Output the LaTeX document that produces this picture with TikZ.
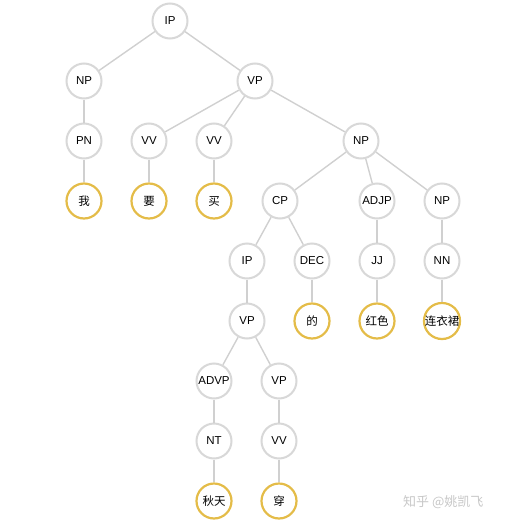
\documentclass[tikz,border=0pt]{standalone}
\usepackage{fontspec}
\setmainfont{Liberation Sans}
\newfontfamily\cjk{Noto Sans CJK SC}
\usepackage{xcolor}
\definecolor{ringgray}{RGB}{216,216,216}
\definecolor{edgegray}{RGB}{208,208,208}
\definecolor{leafgold}{RGB}{228,188,72}

\begin{document}
\begin{tikzpicture}[x=1pt,y=1pt,yscale=-1,xscale=1,
  tag/.style={circle,draw=ringgray,line width=2pt,fill=white,minimum size=35pt,inner sep=0pt,font=\fontsize{11.5}{13}\selectfont},
  leaf/.style={tag,draw=leafgold,line width=2.2pt,font=\fontsize{11.5}{13}\selectfont\cjk},
  branch/.style={draw=edgegray,line width=1.4pt}]
\useasboundingbox (0,0) rectangle (512,525);

% Text Node
\node [tag] (ip) at (170,21) {IP};
% Text Node
\node [tag] (np) at (84,81) {NP};
\node [tag] (vp) at (255,81) {VP};
% Text Node
\node [tag] (pn) at (84,141) {PN};
\node [tag] (vva) at (149,141) {VV};
\node [tag] (vvb) at (214,141) {VV};
\node [tag] (npr) at (361,141) {NP};
% Text Node
\node [leaf] (wo) at (84,201) {我};
\node [leaf] (yao) at (149,201) {要};
\node [leaf] (mai) at (214,201) {买};
\node [tag] (cp) at (280,201) {CP};
\node [tag] (adjp) at (377,201) {ADJP};
\node [tag] (npn) at (442,201) {NP};
% Text Node
\node [tag] (ipc) at (247,261) {IP};
\node [tag] (dec) at (312,261) {DEC};
\node [tag] (jj) at (377,261) {JJ};
\node [tag] (nn) at (442,261) {NN};
% Text Node
\node [tag] (vpc) at (247,321) {VP};
\node [leaf] (de) at (312,321) {的};
\node [leaf] (hongse) at (377,321) {红色};
\node [leaf] (lyq) at (442,321) {连衣裙};
% Text Node
\node [tag] (advp) at (214,381) {ADVP};
\node [tag] (vpd) at (279,381) {VP};
% Text Node
\node [tag] (nt) at (214,441) {NT};
\node [tag] (vvc) at (279,441) {VV};
% Text Node
\node [leaf] (qiutian) at (214,501) {秋天};
\node [leaf] (chuan) at (279,501) {穿};
% Text Node
\node [anchor=west,inner sep=0pt,text=black!22,font=\fontsize{13}{15}\selectfont\cjk] (mark) at (403,502) {知乎 @姚凯飞};

%Straight Lines
\foreach \a/\b in {ip/np,ip/vp,np/pn,vp/vva,vp/vvb,vp/npr,pn/wo,vva/yao,vvb/mai,
  npr/cp,npr/adjp,npr/npn,cp/ipc,cp/dec,adjp/jj,npn/nn,ipc/vpc,dec/de,jj/hongse,nn/lyq,
  vpc/advp,vpc/vpd,advp/nt,vpd/vvc,nt/qiutian,vvc/chuan}
  \draw [branch] (\a) -- (\b);

\end{tikzpicture}
\end{document}
